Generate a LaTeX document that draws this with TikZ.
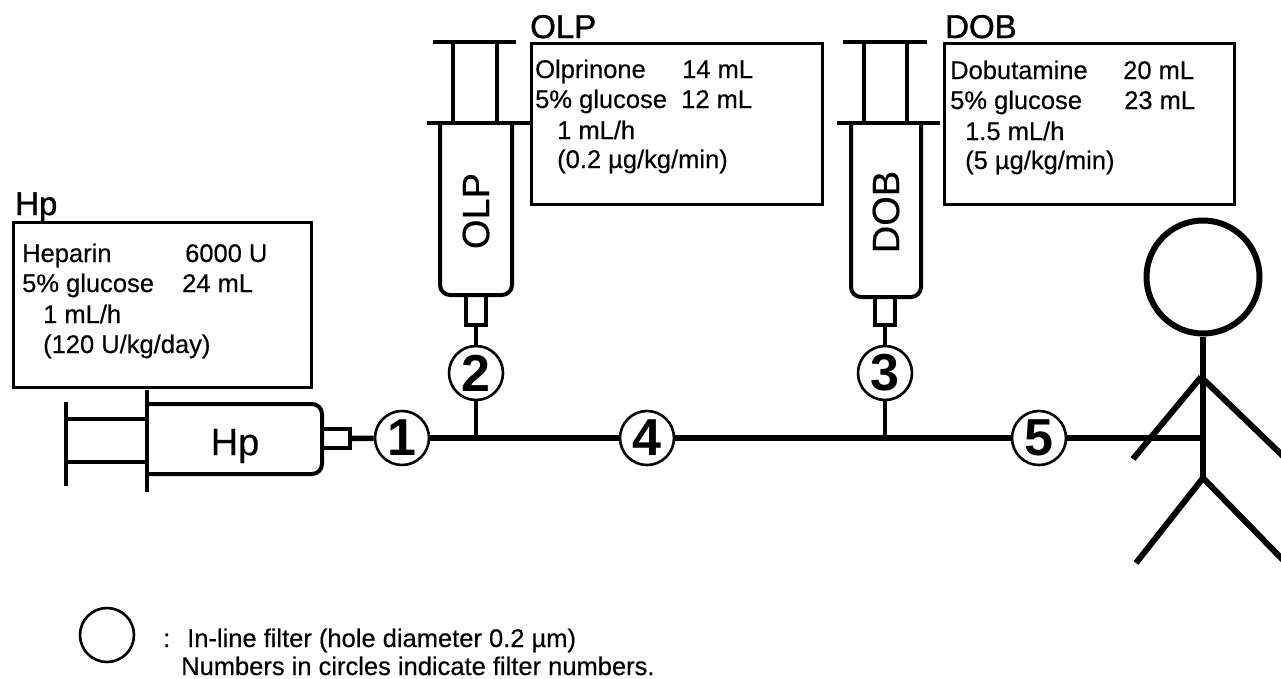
\documentclass[tikz,border=0pt]{standalone}
\usepackage{fontspec}
\setmainfont{Liberation Sans}[FakeBold=0.4]
\newfontfamily\hdrfont{Liberation Sans}[FakeBold=1.2]
\newfontfamily\numfont{Liberation Sans Bold}
\begin{document}
\begin{tikzpicture}[x=1pt,y=-1pt,
  filt/.style={circle,draw,line width=2.6pt,minimum size=54pt,inner sep=0pt,font=\numfont\fontsize{52}{52}\selectfont},
  syr/.style={line width=4pt},
  nozzle/.style={draw,line width=3.5pt,inner sep=0pt},
  pipe/.style={line width=5.5pt},
  stem/.style={line width=4.5pt},
  infobox/.style={draw,line width=2.5pt,inner sep=0pt,anchor=north west},
  txt/.style={anchor=base west,inner sep=0pt,font=\fontsize{25.5}{30}\selectfont},
  hdr/.style={anchor=base west,inner sep=0pt,font=\hdrfont\fontsize{33}{33}\selectfont},
  lab/.style={inner sep=0pt,font=\fontsize{38}{38}\selectfont},
  fig/.style={line width=6pt}]
\useasboundingbox (0,0) rectangle (1281,678);

% ---------- Hp syringe (horizontal) ----------
\draw[syr] (66,402) -- (66,486);
\draw[syr] (66,419) -- (147,419);
\draw[syr] (66,462) -- (147,462);
\draw[syr] (147,390) -- (147,492);
\draw[syr,rounded corners=10pt] (147,404) -- (322,404) -- (322,474) -- (147,474);
\node[nozzle,minimum width=28pt,minimum height=19pt] (hpn) at (336,438.5) {};
\node[lab] (hplab) at (235,446) {Hp};

% ---------- OLP syringe (vertical) ----------
\draw[syr] (433,42) -- (516,42);
\draw[syr] (453,42) -- (453,123);
\draw[syr] (497,42) -- (497,123);
\draw[syr] (427,123) -- (530,123);
\draw[syr,rounded corners=10pt] (440,123) -- (440,295) -- (512,295) -- (512,123);
\node[nozzle,minimum width=20pt,minimum height=30pt] (olpn) at (476,310) {};
\node[lab,rotate=90] (olplab) at (476,211) {OLP};

% ---------- DOB syringe (vertical) ----------
\draw[syr] (843,42) -- (927,42);
\draw[syr] (864,42) -- (864,123);
\draw[syr] (907,42) -- (907,123);
\draw[syr] (837,123) -- (940,123);
\draw[syr,rounded corners=10pt] (851,123) -- (851,297) -- (921,297) -- (921,123);
\node[nozzle,minimum width=20pt,minimum height=28pt] (dobn) at (885,311) {};
\node[lab,rotate=90] (doblab) at (886,212) {DOB};

% ---------- filters ----------
\node[filt] (c1) at (402,438) {1};
\node[filt] (c2) at (476,373) {2};
\node[filt] (c3) at (885,373) {3};
\node[filt] (c4) at (647,438) {4};
\node[filt] (c5) at (1039,438) {5};
\coordinate (j2) at (476,438);
\coordinate (j3) at (885,438);
\coordinate (bodyj) at (1201,438);

% ---------- line ----------
\draw[pipe] (hpn.east) -- (c1);
\draw[pipe] (c1) -- (c4);
\draw[pipe] (c4) -- (c5);
\draw[pipe] (c5) -- (bodyj);
\draw[stem] (olpn.south) -- (c2);
\draw[stem] (c2) -- (j2);
\draw[stem] (dobn.south) -- (c3);
\draw[stem] (c3) -- (j3);

% ---------- person ----------
\node[circle,draw,line width=6pt,minimum size=113pt,inner sep=0pt] (headc) at (1203,277) {};
\coordinate (shoulder) at (1201,377);
\coordinate (hip) at (1203,478);
\coordinate (lhand) at (1133,459);
\coordinate (rhand) at (1284,457);
\coordinate (lfoot) at (1136,563);
\coordinate (rfoot) at (1284,561);
\draw[fig] (headc.south) -- (hip);
\draw[fig] (shoulder) -- (lhand);
\draw[fig] (shoulder) -- (rhand);
\draw[fig] (hip) -- (lfoot);
\draw[fig] (hip) -- (rfoot);

% ---------- Hp box ----------
\node[hdr] (hphdr) at (15,215) {Hp};
\node[infobox,minimum width=298pt,minimum height=165pt] (hpbox) at (12,221) {};
\node[txt] (hp1a) at (22,262) {Heparin};
\node[txt] (hp1b) at (185,262) {6000 U};
\node[txt] (hp2a) at (22,292) {5\% glucose};
\node[txt] (hp2b) at (182,292) {24 mL};
\node[txt] (hp3) at (43,323) {1 mL/h};
\node[txt] (hp4) at (43,353) {(120 U/kg/day)};

% ---------- OLP box ----------
\node[hdr] (olphdr) at (530,38) {OLP};
\node[infobox,minimum width=291pt,minimum height=161pt] (olpbox) at (530,42) {};
\node[txt] (olp1a) at (535,78) {Olprinone};
\node[txt] (olp1b) at (682,78) {14 mL};
\node[txt] (olp2a) at (535,108) {5\% glucose};
\node[txt] (olp2b) at (681,108) {12 mL};
\node[txt] (olp3) at (557,139) {1 mL/h};
\node[txt] (olp4) at (557,168) {(0.2 µg/kg/min)};

% ---------- DOB box ----------
\node[hdr] (dobhdr) at (945,38) {DOB};
\node[infobox,minimum width=290pt,minimum height=161pt] (dobbox) at (943,42) {};
\node[txt] (dob1a) at (950,79) {Dobutamine};
\node[txt] (dob1b) at (1123,79) {20 mL};
\node[txt] (dob2a) at (950,109) {5\% glucose};
\node[txt] (dob2b) at (1124,109) {23 mL};
\node[txt] (dob3) at (965,140) {1.5 mL/h};
\node[txt] (dob4) at (965,169) {(5 µg/kg/min)};

% ---------- legend ----------
\node[circle,draw,line width=2.6pt,minimum size=54pt,inner sep=0pt] (legc) at (107,635) {};
\node[txt] (legcolon) at (163,647) {:};
\node[txt] (leg1) at (187,647) {In-line filter (hole diameter 0.2 µm)};
\node[txt] (leg2) at (181,675) {Numbers in circles indicate filter numbers.};
\end{tikzpicture}
\end{document}
